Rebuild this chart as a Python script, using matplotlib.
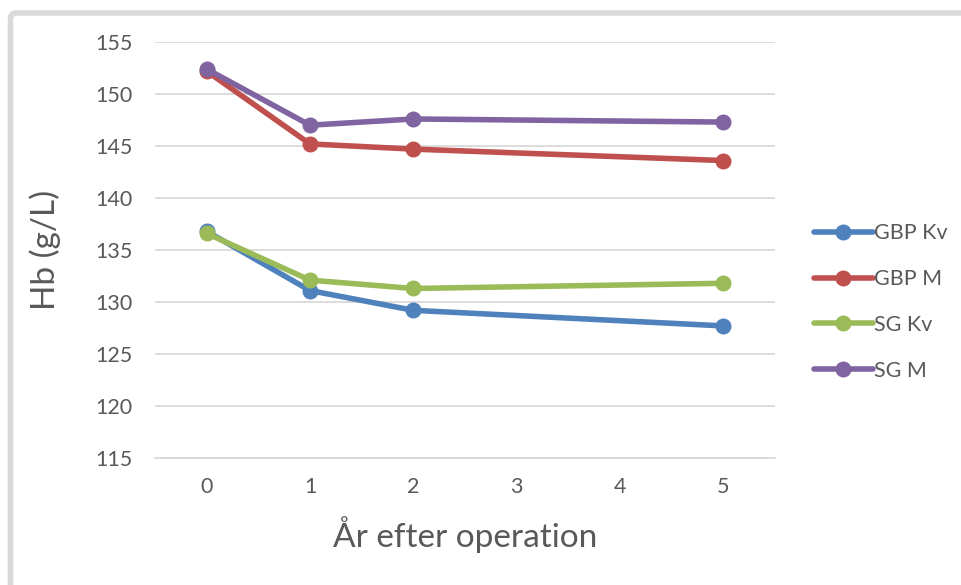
import matplotlib
matplotlib.use('Agg')
import matplotlib.pyplot as plt
from matplotlib.patches import FancyBboxPatch

# Hb per follow-up year, by surgery type and sex
years = [0, 1, 2, 5]
gbp_kv = [136.8, 131.1, 129.2, 127.7]
gbp_m = [152.2, 145.2, 144.7, 143.6]
sg_kv = [136.6, 132.1, 131.3, 131.8]
sg_m = [152.4, 147.0, 147.6, 147.3]

series_names = ['GBP Kv', 'GBP M', 'SG Kv', 'SG M']
series_colors = ['#4F81BD', '#C0504D', '#9BBB59', '#8064A2']

x_ticks = [0, 1, 2, 3, 4, 5]
y_ticks = [115, 120, 125, 130, 135, 140, 145, 150, 155]

plt.rcParams['font.family'] = ['Lato', 'DejaVu Sans']
text_grey = '#595959'
grid_grey = '#D9D9D9'

fig = plt.figure(figsize=(9.61, 5.85), dpi=100)
ax = fig.add_axes([155 / 961, 1 - 458 / 585, 620 / 961, 416 / 585])

# chart frame
frame = FancyBboxPatch((0.105, -1.0), 10.0, 1.0 + 5.72,
                       boxstyle='round,pad=0,rounding_size=0.06',
                       transform=fig.dpi_scale_trans, fill=False,
                       edgecolor=grid_grey, linewidth=4, zorder=0)
fig.patches.append(frame)

for vals, name, col in zip([gbp_kv, gbp_m, sg_kv, sg_m], series_names, series_colors):
    ax.plot(years, vals, color=col, linewidth=4.0, marker='o', markersize=10.5,
            label=name, solid_capstyle='round', zorder=3)

ax.set_xlim(-0.5, 5.5)
ax.set_ylim(115, 155)
ax.set_xticks(x_ticks)
ax.set_yticks(y_ticks)
ax.tick_params(axis='y', length=0, labelsize=15.5, colors=text_grey, pad=16)
ax.tick_params(axis='x', length=0, labelsize=15.5, colors=text_grey, pad=14)
ax.grid(axis='y', color=grid_grey, linewidth=1.3)
ax.set_axisbelow(True)
for side in ['top', 'right', 'left']:
    ax.spines[side].set_visible(False)
ax.spines['bottom'].set_color(grid_grey)
ax.spines['bottom'].set_linewidth(1.3)

fig.text(45 / 961, 1 - 250 / 585, 'Hb (g/L)', rotation=90, ha='center', va='center',
         fontsize=24, color=text_grey)
fig.text(465 / 961, 1 - 535 / 585, 'År efter operation', ha='center', va='center',
         fontsize=24, color=text_grey)

fig.legend(loc='center left', bbox_to_anchor=(795 / 961, 1 - 302 / 585), frameon=False,
           fontsize=15.5, handlelength=2.7, handletextpad=0.05, labelspacing=1.2,
           labelcolor=text_grey)

plt.savefig('out.png', dpi=100)
plt.close()
